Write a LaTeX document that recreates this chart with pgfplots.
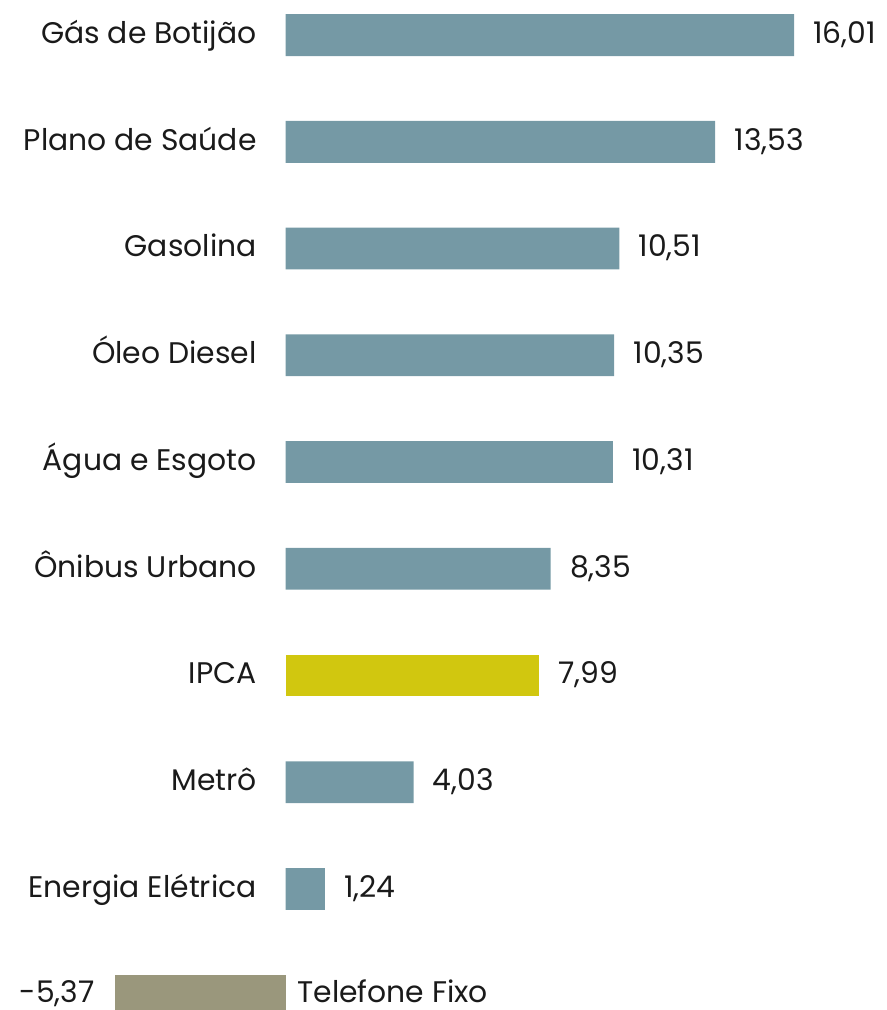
\documentclass[border=0pt]{standalone}
\usepackage{pgfplots}
\pgfplotsset{compat=1.18}
\usepackage{pgfplotstable}
\usepackage{fontspec}
\setmainfont{Poppins}
\definecolor{barblue}{HTML}{7599A5}
\definecolor{baryellow}{HTML}{D1C70F}
\definecolor{bargray}{HTML}{9A977C}
\definecolor{txt}{HTML}{1A1A1A}
\pgfplotstableread[col sep=semicolon, row sep=\\]{
y;v;lab;cat\\
1;1.24;1,24;Energia Elétrica\\
2;4.03;4,03;Metrô\\
4;8.35;8,35;Ônibus Urbano\\
5;10.31;10,31;Água e Esgoto\\
6;10.35;10,35;Óleo Diesel\\
7;10.51;10,51;Gasolina\\
8;13.53;13,53;Plano de Saúde\\
9;16.01;16,01;Gás de Botijão\\
}\blue
\pgfplotstableread[col sep=semicolon, row sep=\\]{
y;v;lab;cat\\
3;7.99;7,99;IPCA\\
}\ipca
\pgfplotstableread[col sep=semicolon, row sep=\\]{
y;v;lab;cat\\
0;-5.37;-5,37;Telefone Fixo\\
}\tel
\begin{document}
\begin{tikzpicture}
\begin{axis}[
  scale only axis, width=443pt, height=505pt,
  xmin=-8.989, xmax=18.907, ymin=-0.1335, ymax=9.328,
  hide axis, clip=false,
  xbar, bar width=0.3934, bar shift=0pt,
  every node near coord/.style={font=\fontsize{14.9}{18}\selectfont, text=txt, inner sep=0pt, text height=10.4pt, text depth=0pt, yshift=1pt},
]
% bars with value labels
\addplot[fill=barblue, draw=none, nodes near coords, point meta=explicit symbolic,
  every node near coord/.append style={anchor=west, xshift=9.5pt}]
  table[x=v, y=y, meta=lab] {\blue};
\addplot[fill=baryellow, draw=none, nodes near coords, point meta=explicit symbolic,
  every node near coord/.append style={anchor=west, xshift=9.5pt}]
  table[x=v, y=y, meta=lab] {\ipca};
\addplot[fill=bargray, draw=none, nodes near coords, point meta=explicit symbolic,
  every node near coord/.append style={anchor=east, xshift=-10pt, yshift=0.75pt}]
  table[x=v, y=y, meta=lab] {\tel};
% category labels
\addplot[draw=none, fill=none, bar width=0, nodes near coords, point meta=explicit symbolic,
  every node near coord/.append style={anchor=east, xshift=-14.25pt}]
  table[x expr=0, y=y, meta=cat] {\blue};
\addplot[draw=none, fill=none, bar width=0, nodes near coords, point meta=explicit symbolic,
  every node near coord/.append style={anchor=east, xshift=-14.25pt}]
  table[x expr=0, y=y, meta=cat] {\ipca};
\addplot[draw=none, fill=none, bar width=0, nodes near coords, point meta=explicit symbolic,
  every node near coord/.append style={anchor=west, xshift=5.75pt, yshift=0.75pt}]
  table[x expr=0, y=y, meta=cat] {\tel};
\end{axis}
\pgfresetboundingbox
\path[use as bounding box] (current axis.south west) rectangle (current axis.north east);
\end{tikzpicture}
\end{document}
